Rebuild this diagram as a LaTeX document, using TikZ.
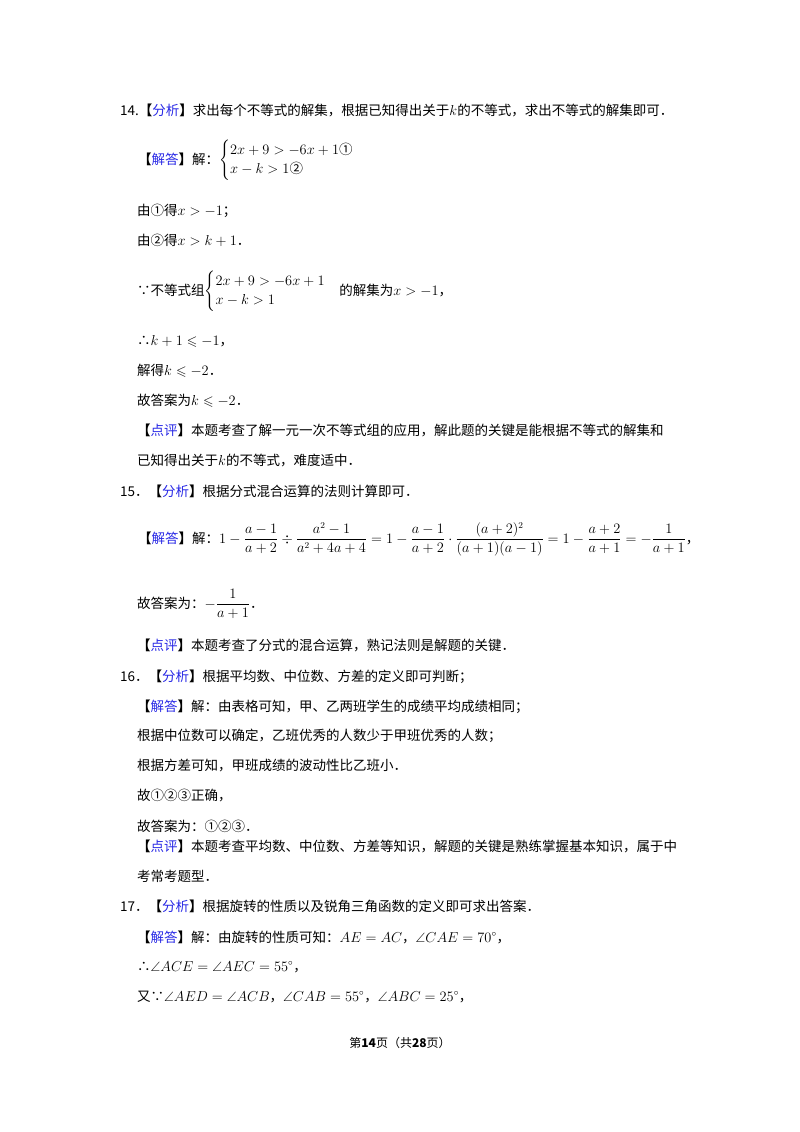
\documentclass[tikz,border=0pt]{standalone}
\usepackage{amsmath,amssymb}
\usepackage{fontspec}
\setmainfont{Noto Sans CJK SC}
\definecolor{hb}{RGB}{40,40,230}
\newcommand{\hdtag}[1]{{\bfseries 【}\textcolor{hb}{#1}{\bfseries 】}}
\begin{document}
\begin{tikzpicture}[x=1pt,y=-1pt,every node/.style={anchor=base west,inner sep=0pt,font=\fontsize{13.5}{16}\selectfont}]
\useasboundingbox (0,0) rectangle (800,1132);
\fill[white] (0,0) rectangle (800,1132);
\node (l1) at (120,115) {14.\hdtag{分析}求出每个不等式的解集，根据已知得出关于$k$的不等式，求出不等式的解集即可．};
\node (l2) at (138,164) {\hdtag{解答}解：$\begin{cases}2x+9>-6x+1\text{①}\\ x-k>1\text{②}\end{cases}$};
\node (l3) at (137,215) {由①得$x>-1$；};
\node (l4) at (137,245) {由②得$x>k+1$．};
\node (l5) at (137,295) {∵不等式组$\begin{cases}2x+9>-6x+1\\ x-k>1\end{cases}$的解集为$x>-1$，};
\node (l6) at (137,345) {∴$k+1\leqslant-1$，};
\node (l7) at (137,375) {解得$k\leqslant-2$．};
\node (l8) at (137,405) {故答案为$k\leqslant-2$．};
\node (l9) at (137,435) {\hdtag{点评}本题考查了解一元一次不等式组的应用，解此题的关键是能根据不等式的解集和};
\node (l10) at (137,465) {已知得出关于$k$的不等式，难度适中．};
\node (l11) at (120,496) {15．\hdtag{分析}根据分式混合运算的法则计算即可．};
\node (l12) at (138,543) {\hdtag{解答}解：$1-\dfrac{a-1}{a+2}\div\dfrac{a^2-1}{a^2+4a+4}=1-\dfrac{a-1}{a+2}\cdot\dfrac{(a+2)^2}{(a+1)(a-1)}=1-\dfrac{a+2}{a+1}=-\dfrac{1}{a+1}$，};
\node (l13) at (137,608) {故答案为：$-\dfrac{1}{a+1}$．};
\node (l14) at (137,650) {\hdtag{点评}本题考查了分式的混合运算，熟记法则是解题的关键．};
\node (l15) at (120,681) {16．\hdtag{分析}根据平均数、中位数、方差的定义即可判断；};
\node (l16) at (137,711) {\hdtag{解答}解：由表格可知，甲、乙两班学生的成绩平均成绩相同；};
\node (l17) at (137,740) {根据中位数可以确定，乙班优秀的人数少于甲班优秀的人数；};
\node (l18) at (137,770) {根据方差可知，甲班成绩的波动性比乙班小．};
\node (l19) at (137,800) {故①②③正确，};
\node (l20) at (137,831) {故答案为：①②③．};
\node (l21) at (137,851) {\hdtag{点评}本题考查平均数、中位数、方差等知识，解题的关键是熟练掌握基本知识，属于中};
\node (l22) at (137,881) {考常考题型．};
\node (l23) at (120,911) {17．\hdtag{分析}根据旋转的性质以及锐角三角函数的定义即可求出答案．};
\node (l24) at (137,942) {\hdtag{解答}解：由旋转的性质可知：$AE=AC$，$\angle CAE=70^\circ$，};
\node (l25) at (137,971) {∴$\angle ACE=\angle AEC=55^\circ$，};
\node (l26) at (137,1001) {又∵$\angle AED=\angle ACB$，$\angle CAB=55^\circ$，$\angle ABC=25^\circ$，};
\node[anchor=base,font=\fontsize{12}{14}\selectfont] (ft) at (400,1047) {第{\bfseries 14}页（共{\bfseries 28}页）};
\end{tikzpicture}
\end{document}
